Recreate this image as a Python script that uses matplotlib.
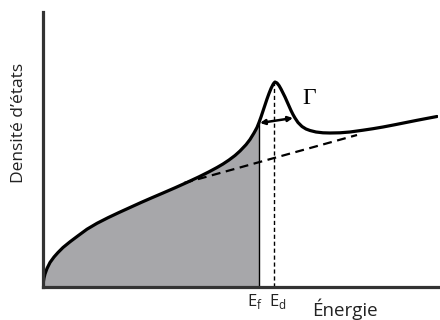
import numpy as np
import matplotlib.pyplot as plt

# density of states curve (arbitrary units)
energy = [0, 0.5, 1, 2, 4, 7, 11, 15, 20, 27, 35, 44, 54, 65, 76, 87, 98, 109,
          120, 132, 144, 156, 166, 174, 180, 186, 192, 197, 203, 207, 211, 214,
          216, 218, 220, 222, 224, 226, 228, 230, 231, 232, 234, 236, 238, 240,
          242, 244, 246, 248, 250, 252, 255, 259, 263, 267, 273, 280, 287, 297,
          307, 320, 330, 340, 352, 363, 374, 385, 394]
density = [0, 6, 9, 13, 18.5, 24.5, 30, 34.5, 39.5, 45.2, 51.2, 57.8, 63.7,
           69.3, 74.5, 79.5, 84.5, 89.3, 94, 99.2, 104.6, 110.2, 115.2, 119.5,
           123, 127, 131.5, 136, 142.3, 147.5, 154, 159.5, 164.5, 170, 176, 182,
           188, 193.5, 198.5, 202.5, 204, 205, 204, 201.5, 198, 194, 190, 185.5,
           181, 176.5, 172.5, 169, 164.5, 160.5, 158, 156.5, 155, 154.2, 154,
           154.2, 155, 156.8, 158.3, 160, 162.3, 164.5, 166.7, 168.8, 170.5]

# free-electron background (dashed)
bg_energy = [141, 314]
bg_density = [104, 152]

E_f = 216
E_d = 231
E_d_peak = 205
gamma_left = (217, 164)
gamma_right = (250, 169)

fig = plt.figure(figsize=(4.4, 3.2), dpi=100)
ax = fig.add_axes([43/440, 33/320, 395/440, 275/320])
ax.set_xlim(0, 395)
ax.set_ylim(0, 275)

energy = np.array(energy)
density = np.array(density)
mask = energy <= E_f
ax.fill_between(energy[mask], 0, density[mask], color='#a7a7aa', lw=0)
ax.plot(energy, density, color='black', lw=2.3, solid_capstyle='round',
        solid_joinstyle='round')
ax.plot(bg_energy, bg_density, color='black', lw=1.6, ls=(0, (4, 2.5)))
ax.plot([E_f, E_f], [0, density[mask][-1]], color='black', lw=1)
ax.plot([E_d, E_d], [0, E_d_peak], color='black', lw=1, ls=(0, (3, 2)))

ax.annotate('', xy=gamma_left, xytext=gamma_right,
            arrowprops=dict(arrowstyle='<|-|>', color='black', lw=1.8,
                            mutation_scale=7, shrinkA=0, shrinkB=0))
ax.text(266, 189, 'Γ', fontsize=17, family='Liberation Serif',
        ha='center', va='center')

for s in ['top', 'right']:
    ax.spines[s].set_visible(False)
for s in ['left', 'bottom']:
    ax.spines[s].set_linewidth(2.3)
    ax.spines[s].set_color('#333333')
ax.set_xticks([])
ax.set_yticks([])

font = 'Open Sans'
fig.text(19/440, 1 - 123/320, 'Densité d’états', rotation=90, fontsize=12.5,
         family=font, ha='center', va='center', color='#222222')
fig.text(345/440, 1 - 309/320, 'Énergie', fontsize=13.5, family=font,
         ha='center', va='center', color='#222222')
ax.text(E_f - 4, -5, r'E$_\mathregular{f}$', fontsize=12, family=font,
        ha='center', va='top', color='#222222')
ax.text(E_d + 4, -5, r'E$_\mathregular{d}$', fontsize=12, family=font,
        ha='center', va='top', color='#222222')

fig.savefig('out.png', dpi=100)
